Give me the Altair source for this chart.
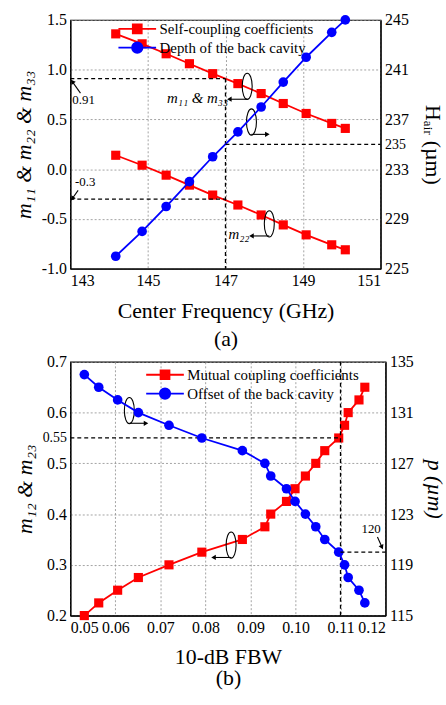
import altair as alt
import pandas as pd

RED = "#ff0000"
BLUE = "#0000ff"
FONT = "Liberation Serif"

# ---- (a) coupling vs. center frequency ----
center_freq = [144.17, 144.85, 145.47, 146.07, 146.67, 147.32, 147.92, 148.49, 149.08, 149.74, 150.09]
m11_m33 = [1.36, 1.26, 1.16, 1.06, 0.96, 0.86, 0.76, 0.66, 0.56, 0.46, 0.41]
m22 = [0.14, 0.04, -0.06, -0.16, -0.26, -0.36, -0.46, -0.56, -0.66, -0.76, -0.81]
h_air = [226, 228, 230, 232, 234, 236, 238, 240, 242, 244, 245]

# ---- (b) mutual coupling vs. fractional bandwidth ----
fbw = [0.0531, 0.0563, 0.0605, 0.0651, 0.0719, 0.0792, 0.0882, 0.0932, 0.0945, 0.0980,
       0.0999, 0.1022, 0.1045, 0.1065, 0.1096, 0.1109, 0.1117, 0.1141, 0.1154]
m12_m23 = [0.200, 0.225, 0.250, 0.275, 0.300, 0.325, 0.350, 0.375, 0.400, 0.425,
           0.450, 0.475, 0.500, 0.525, 0.550, 0.575, 0.600, 0.625, 0.650]
offset_p = [134, 133, 132, 131, 130, 129, 128, 127, 126, 125,
            124, 123, 122, 121, 120, 119, 118, 117, 116]

SELF = "Self-coupling coefficients"
DEPTH = "Depth of the back cavity"
MUTUAL = "Mutual coupling coefficients"
OFFSET = "Offset of the back cavity"

self_df = pd.DataFrame({
    "freq": center_freq * 2,
    "m": m11_m33 + m22,
    "group": ["m11"] * len(center_freq) + ["m22"] * len(center_freq),
    "series": SELF,
})
depth_df = pd.DataFrame({"freq": center_freq, "h": h_air, "series": DEPTH})
mutual_df = pd.DataFrame({"fbw": fbw, "m": m12_m23, "series": MUTUAL})
offset_df = pd.DataFrame({"fbw": fbw, "p": offset_p, "series": OFFSET})

# legend glyphs: a short line with the marker on it
SQUARE_GLYPH = "M-3.8,0H3.8M-0.9,-0.9H0.9V0.9H-0.9Z"
CIRCLE_GLYPH = "M-3.8,0H3.8M1.05,0A1.05,1.05,0,1,1,-1.05,0A1.05,1.05,0,1,1,1.05,0Z"
ELLIPSE = "M0,-1A0.38,1,0,1,1,0,1A0.38,1,0,1,1,0,-1Z"

DASH = [4, 3]
GRID = dict(grid=True, gridDash=[2, 2], gridColor="#8c8c8c", gridWidth=0.8)
LABELS = dict(labelFont=FONT, labelFontSize=16, labelColor="black", ticks=False,
              labelPadding=4, labelOverlap=False, domainColor="black", domainWidth=1.2,
              titleFont=FONT, titleFontWeight="normal", titleColor="black", titleFontSize=22)
SIGNED = "(datum.value < 0 ? '-' : '') + format(abs(datum.value), '.1f')"


def legend(x, y, glyph, color):
    return alt.Legend(title=None, orient="none", legendX=x, legendY=y, symbolType=glyph,
                      symbolSize=100, symbolStrokeColor=color, symbolStrokeWidth=1.8,
                      symbolOpacity=1, labelFont=FONT, labelFontSize=15, labelColor="black",
                      labelOffset=15, labelLimit=0, padding=0)


def px(field, scale, axis):
    return alt.X(field, scale=scale, axis=axis)


def py(field, scale, axis):
    return alt.Y(field, scale=scale, axis=axis)


def dashed(df, xs, xax, ys, yax):
    return alt.Chart(df).mark_rule(color="black", strokeDash=DASH, strokeWidth=1.3).encode(
        x=px("x:Q", xs, xax), x2="x2:Q", y=py("y:Q", ys, yax), y2="y2:Q")


def ellipses(df, xs, xax, ys, yax):
    return alt.Chart(df).mark_point(shape=ELLIPSE, size=700, filled=False, color="black",
                                    strokeWidth=1.1, opacity=1).encode(
        x=px("x:Q", xs, xax), y=py("y:Q", ys, yax))


def arrows(df, xs, xax, ys, yax):
    shaft = alt.Chart(df).mark_rule(color="black", strokeWidth=1.1).encode(
        x=px("x:Q", xs, xax), x2="x2:Q", y=py("y:Q", ys, yax), y2="y2:Q")
    head = alt.Chart(df).mark_point(shape="triangle-up", filled=True, color="black",
                                    size=28, opacity=1).encode(
        x=px("x2:Q", xs, xax), y=py("y2:Q", ys, yax),
        angle=alt.Angle("angle:Q", scale=None))
    return [shaft, head]


def notes(df, xs, xax, ys, yax, size, style="normal", align="left"):
    return alt.Chart(df).mark_text(font=FONT, fontSize=size, fontStyle=style, align=align,
                                   baseline="middle", color="black").encode(
        x=px("x:Q", xs, xax), y=py("y:Q", ys, yax), text="t:N")


# ================= (a) =================
xa = alt.Scale(domain=[143, 151], nice=False, zero=False)
ya = alt.Scale(domain=[-1.0, 1.5], nice=False, zero=False)
ha = alt.Scale(domain=[225, 245], nice=False, zero=False)

xa_axis = alt.Axis(values=[143, 145, 147, 149, 151], format="d",
                   title=["Center Frequency (GHz)", "(a)"], titleLineHeight=29,
                   titlePadding=12, **GRID, **LABELS)
ya_axis = alt.Axis(values=[-1.0, -0.5, 0.0, 0.5, 1.0, 1.5], labelExpr=SIGNED,
                   title="m₁₁ & m₂₂ & m₃₃", titleFontStyle="italic", titlePadding=6,
                   **GRID, **LABELS)
ha_axis = alt.Axis(values=[225, 229, 233, 235, 237, 241, 245], orient="right", grid=False,
                   labelFontSize={"condition": {"test": "datum.value == 235", "value": 14},
                                  "value": 16},
                   title="Hₐᵢᵣ (µm)", titlePadding=12,
                   **{k: v for k, v in LABELS.items() if k != "labelFontSize"})

self_line = alt.Chart(self_df).mark_line(color=RED, strokeWidth=1.8).encode(
    x=px("freq:Q", xa, xa_axis), y=py("m:Q", ya, ya_axis), detail="group:N")
self_pts = alt.Chart(self_df).mark_point(shape="square", size=85, filled=True, opacity=1).encode(
    x=px("freq:Q", xa, xa_axis), y=py("m:Q", ya, ya_axis),
    color=alt.Color("series:N", scale=alt.Scale(domain=[SELF], range=[RED]),
                    legend=legend(60, 1.5, SQUARE_GLYPH, RED)))

a_dash = pd.DataFrame({"x": [143, 147, 143], "x2": [147, 147, 147],
                       "y": [0.91, 0.91, -0.3], "y2": [0.91, -1.0, -0.3]})
a_ell = pd.DataFrame({"x": [147.56, 147.67, 148.13], "y": [0.833, 0.474, -0.549]})
a_arr = pd.DataFrame({"x": [147.56, 147.67, 148.13, 143.26, 143.20],
                      "x2": [147.10, 148.08, 147.67, 143.05, 143.05],
                      "y": [0.703, 0.35, -0.671, 0.765, -0.213],
                      "y2": [0.703, 0.35, -0.671, 0.88, -0.295],
                      "angle": [270, 90, 270, 323, 216]})
a_num = pd.DataFrame({"x": [143.05, 143.12], "y": [0.69, -0.125], "t": ["0.91", "-0.3"]})
a_sym = pd.DataFrame({"x": [147.07, 147.62], "y": [0.713, -0.65], "t": ["m₁₁ & m₃₃", "m₂₂"]})

left_a = alt.layer(
    self_line, self_pts,
    dashed(a_dash, xa, xa_axis, ya, ya_axis),
    ellipses(a_ell, xa, xa_axis, ya, ya_axis),
    *arrows(a_arr, xa, xa_axis, ya, ya_axis),
    notes(a_num, xa, xa_axis, ya, ya_axis, 13),
    notes(a_sym, xa, xa_axis, ya, ya_axis, 15, "italic", "right"),
)

depth_line = alt.Chart(depth_df).mark_line(color=BLUE, strokeWidth=1.8).encode(
    x=px("freq:Q", xa, xa_axis), y=py("h:Q", ha, ha_axis))
depth_pts = alt.Chart(depth_df).mark_point(shape="circle", size=95, filled=True, opacity=1).encode(
    x=px("freq:Q", xa, xa_axis), y=py("h:Q", ha, ha_axis),
    color=alt.Color("series:N", scale=alt.Scale(domain=[DEPTH], range=[BLUE]),
                    legend=legend(60, 20.5, CIRCLE_GLYPH, BLUE)))
h_dash = pd.DataFrame({"x": [147], "x2": [151], "y": [235], "y2": [235]})
right_a = alt.layer(depth_line, depth_pts, dashed(h_dash, xa, xa_axis, ha, ha_axis))

chart_a = alt.layer(left_a, right_a).resolve_scale(y="independent", color="independent").properties(
    width=313, height=251)

# ================= (b) =================
xb = alt.Scale(domain=[0.05, 0.12], nice=False, zero=False)
yb = alt.Scale(domain=[0.2, 0.7], nice=False, zero=False)
pb = alt.Scale(domain=[115, 135], nice=False, zero=False)

xb_axis = alt.Axis(values=[0.05, 0.06, 0.07, 0.08, 0.09, 0.10, 0.11, 0.12], format=".2f",
                   title=["10-dB FBW", "(b)"], titleLineHeight=22, titlePadding=11,
                   **GRID, **LABELS)
yb_axis = alt.Axis(values=[0.2, 0.3, 0.4, 0.5, 0.55, 0.6, 0.7],
                   labelExpr="datum.value == 0.55 ? '0.55' : format(datum.value, '.1f')",
                   labelFontSize={"condition": {"test": "datum.value == 0.55", "value": 14},
                                  "value": 16},
                   gridOpacity={"condition": {"test": "datum.value == 0.55", "value": 0},
                                "value": 1},
                   title="m₁₂ & m₂₃", titleFontStyle="italic", titlePadding=6,
                   grid=True, gridDash=[2, 2], gridColor="#8c8c8c", gridWidth=0.8,
                   **{k: v for k, v in LABELS.items() if k != "labelFontSize"})
pb_axis = alt.Axis(values=[115, 119, 123, 127, 131, 135], orient="right", grid=False,
                   title="p (µm)", titleFontStyle="italic", titlePadding=9, **LABELS)

mutual_line = alt.Chart(mutual_df).mark_line(color=RED, strokeWidth=1.8).encode(
    x=px("fbw:Q", xb, xb_axis), y=py("m:Q", yb, yb_axis))
mutual_pts = alt.Chart(mutual_df).mark_point(shape="square", size=85, filled=True, opacity=1).encode(
    x=px("fbw:Q", xb, xb_axis), y=py("m:Q", yb, yb_axis),
    color=alt.Color("series:N", scale=alt.Scale(domain=[MUTUAL], range=[RED]),
                    legend=legend(88, 5.5, SQUARE_GLYPH, RED)))

b_dash = pd.DataFrame({"x": [0.05, 0.11], "x2": [0.11, 0.11],
                       "y": [0.55, 0.7], "y2": [0.55, 0.2]})
b_ell = pd.DataFrame({"x": [0.0631, 0.0857], "y": [0.604, 0.339]})
b_arr = pd.DataFrame({"x": [0.0631, 0.0857, 0.1182], "x2": [0.0668, 0.0818, 0.1192],
                      "y": [0.579, 0.3145, 0.355], "y2": [0.579, 0.3145, 0.335],
                      "angle": [90, 270, 155]})
b_num = pd.DataFrame({"x": [0.1168], "y": [0.37], "t": ["120"]})

left_b = alt.layer(
    mutual_line, mutual_pts,
    dashed(b_dash, xb, xb_axis, yb, yb_axis),
    ellipses(b_ell, xb, xb_axis, yb, yb_axis),
    *arrows(b_arr, xb, xb_axis, yb, yb_axis),
    notes(b_num, xb, xb_axis, yb, yb_axis, 13, "normal", "center"),
)

offset_line = alt.Chart(offset_df).mark_line(color=BLUE, strokeWidth=1.8).encode(
    x=px("fbw:Q", xb, xb_axis), y=py("p:Q", pb, pb_axis))
offset_pts = alt.Chart(offset_df).mark_point(shape="circle", size=95, filled=True, opacity=1).encode(
    x=px("fbw:Q", xb, xb_axis), y=py("p:Q", pb, pb_axis),
    color=alt.Color("series:N", scale=alt.Scale(domain=[OFFSET], range=[BLUE]),
                    legend=legend(88, 24.5, CIRCLE_GLYPH, BLUE)))
p_dash = pd.DataFrame({"x": [0.11], "x2": [0.12], "y": [120], "y2": [120]})
right_b = alt.layer(offset_line, offset_pts, dashed(p_dash, xb, xb_axis, pb, pb_axis))

chart_b = alt.layer(left_b, right_b).resolve_scale(y="independent", color="independent").properties(
    width=318, height=256)

chart = alt.vconcat(chart_a, chart_b, spacing=2).properties(
    padding={"left": 12, "top": 8, "right": 0, "bottom": 0}
).configure_view(stroke="black", strokeWidth=1.2)

chart.save("out.html", embed_options={"renderer": "svg", "actions": False})
